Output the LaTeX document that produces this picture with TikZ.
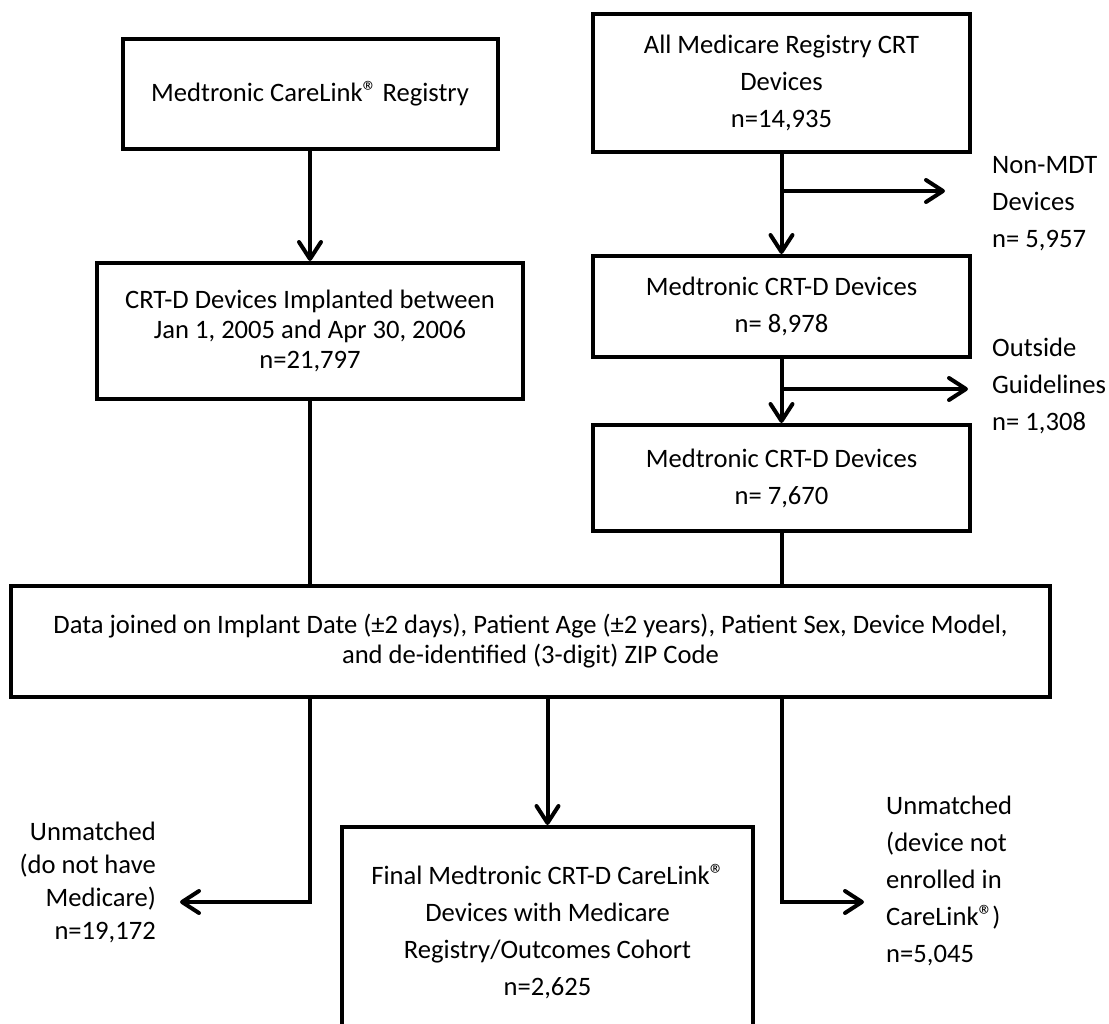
\documentclass[tikz,border=0pt]{standalone}
\usepackage{fontspec}
\setmainfont{Carlito}
\usetikzlibrary{arrows.meta,positioning}
\tikzset{
	>={Straight Barb[length=17pt,width=22pt,round]}
}
\newcommand{\regmark}{\makebox[0.52em][l]{\scalebox{1.1}{®}}}

\begin{document}
\begin{tikzpicture}[
x = 1pt, y = -1pt,
every node/.style = {
	font = \fontsize{26.6}{37}\selectfont
},
box/.style = {
	draw,
	line width = 4pt,
	align = center,
	inner sep = 0pt
},
tight/.style = {
	font = \fontsize{26.6}{30}\selectfont
},
flow/.style = {
	->,
	line width = 4pt
},
link/.style = {
	line width = 4pt
},
note/.style = {
	align = left,
	inner sep = 0pt
}
]
\useasboundingbox (0,0) rectangle (1109,1024);
\clip (0,0) rectangle (1109,1024);

\node [box, minimum width=375pt, minimum height=110pt] (carelink) at (310,94) {Medtronic CareLink\regmark{} Registry};
\node [box, tight, minimum width=426pt, minimum height=136pt] (implanted) at (310,331) {CRT-D Devices Implanted between\\Jan 1, 2005 and Apr 30, 2006\\n=21,797};

\node [box, minimum width=377pt, minimum height=138pt] (allcrt) at (781.5,83) {All Medicare Registry CRT\\Devices\\n=14,935};
\node [box, minimum width=377pt, minimum height=101pt] (mdtd) at (781.5,306.5) {Medtronic CRT-D Devices\\n= 8,978};
\node [box, minimum width=377pt, minimum height=106pt] (mdtdin) at (781.5,478) {Medtronic CRT-D Devices\\n= 7,670};

\node [note, anchor=west] (nonmdt) at (992,204) {Non-MDT\\Devices\\n= 5,957};
\node [note, anchor=west] (outside) at (992,386) {Outside\\Guidelines\\n= 1,308};

\node [box, tight, minimum width=1039pt, minimum height=111pt] (joined) at (530.5,641.5) {Data joined on Implant Date (±2 days), Patient Age (±2 years), Patient Sex, Device Model,\\and de-identified (3-digit) ZIP Code};

\node [box, minimum width=411pt, minimum height=210pt] (cohort) at (547.5,932) {Final Medtronic CRT-D CareLink\regmark\\Devices with Medicare\\Registry/Outcomes Cohort\\n=2,625};

\node [note, align=right, anchor=east, font=\fontsize{26.6}{33}\selectfont] (nomedicare) at (156,882.5) {Unmatched\\(do not have\\Medicare)\\n=19,172};
\node [note, anchor=west] (notenrolled) at (886,881) {Unmatched\\(device not\\enrolled in\\CareLink\regmark)\\n=5,045};

\coordinate (split1) at (781.5,191);
\coordinate (end1) at (945,191);
\coordinate (split2) at (781.5,389);
\coordinate (end2) at (968,389);
\coordinate (end3) at (180,902);
\coordinate (end4) at (864,902);

\draw[flow] (carelink) -- (implanted);
\draw[flow] (allcrt) -- (mdtd);
\draw[flow] (split1) -- (end1);
\draw[flow] (mdtd) -- (mdtdin);
\draw[flow] (split2) -- (end2);

\draw[link] (implanted) -- (implanted |- joined.north);
\draw[link] (mdtdin) -- (mdtdin |- joined.north);

\draw[flow] (implanted |- joined.south) |- (end3);
\draw[flow] (cohort |- joined.south) -- (cohort);
\draw[flow] (mdtdin |- joined.south) |- (end4);

\end{tikzpicture}
\end{document}
